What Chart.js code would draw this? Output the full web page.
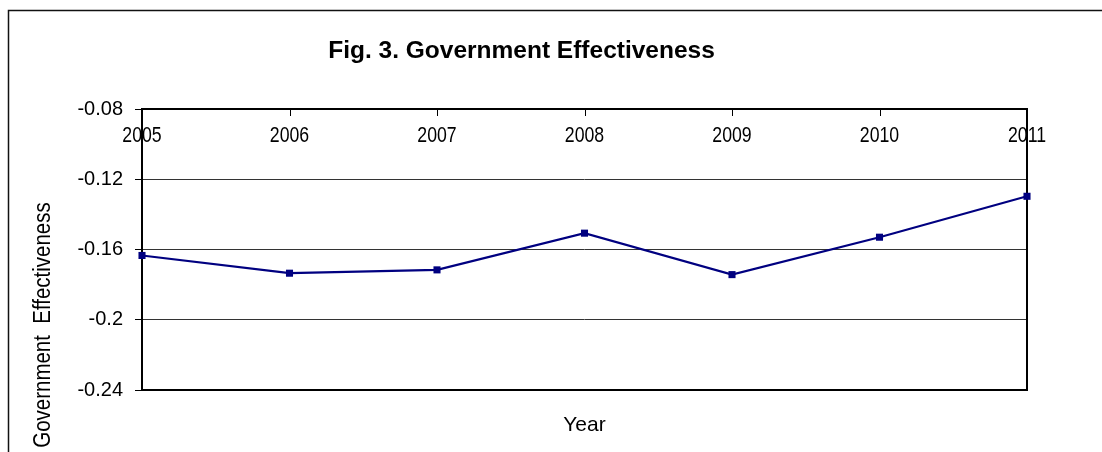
<!DOCTYPE html>
<html><head><meta charset="utf-8">
<script src="https://cdn.jsdelivr.net/npm/chart.js@4"></script>
<style>html,body{margin:0;padding:0;background:#fff;} canvas{display:block;}</style>
</head><body>
<canvas id="c" width="1102" height="452"></canvas>
<script>
const years = ['2005','2006','2007','2008','2009','2010','2011'];
const effectiveness = [-0.1634,-0.1735,-0.1716,-0.1507,-0.1743,-0.1530,-0.1297];
const yTicks = [-0.24,-0.20,-0.16,-0.12,-0.08];
const chartTitle = 'Fig. 3. Government Effectiveness';
const yTitle = 'Government  Effectiveness';
const xTitle = 'Year';

const FONT = "'Liberation Sans', Arial, Helvetica, sans-serif";
Chart.defaults.font.family = FONT;
Chart.defaults.color = '#000';

const customDraw = {
  id: 'customDraw',
  beforeDraw(chart) {
    const ctx = chart.ctx;
    ctx.save();
    ctx.fillStyle = '#fff';
    ctx.fillRect(0, 0, chart.width, chart.height);
    ctx.strokeStyle = '#111';
    ctx.lineWidth = 1.5;
    ctx.strokeRect(8.5, 10.5, chart.width + 40, chart.height + 40);
    // y axis title
    ctx.fillStyle = '#000';
    ctx.font = '23px ' + FONT;
    ctx.textAlign = 'center';
    ctx.textBaseline = 'alphabetic';
    ctx.translate(50, 325);
    ctx.rotate(-Math.PI / 2);
    ctx.scale(0.89, 1);
    ctx.fillText(yTitle, 0, 0);
    ctx.restore();
  },
  beforeDatasetsDraw(chart) {
    const ctx = chart.ctx, a = chart.chartArea, xs = chart.scales.x;
    ctx.save();
    // category labels inside the top of the plot
    ctx.fillStyle = '#000';
    ctx.font = '22px ' + FONT;
    ctx.textAlign = 'center';
    ctx.textBaseline = 'alphabetic';
    years.forEach((lab, i) => {
      const x = xs.getPixelForValue(i);
      ctx.save();
      ctx.translate(x, a.top + 33.4);
      ctx.scale(0.805, 1);
      ctx.fillText(lab, 0, 0);
      ctx.restore();
    });
    // inward tick marks on the top edge
    ctx.strokeStyle = '#000';
    ctx.lineWidth = 1;
    years.forEach((lab, i) => {
      const x = Math.round(xs.getPixelForValue(i)) + 0.5;
      ctx.beginPath();
      ctx.moveTo(x, a.top);
      ctx.lineTo(x, a.top + 7);
      ctx.stroke();
    });
    // plot frame
    ctx.lineWidth = 2;
    ctx.strokeRect(a.left, a.top, a.right - a.left, a.bottom - a.top);
    ctx.restore();
  }
};

new Chart(document.getElementById('c'), {
  type: 'line',
  data: {
    labels: years,
    datasets: [{
      data: effectiveness,
      borderColor: '#000080',
      backgroundColor: '#000080',
      borderWidth: 2.2,
      pointStyle: 'rect',
      pointRadius: 5,
      pointHoverRadius: 5,
      pointBorderWidth: 0,
      tension: 0,
      clip: false
    }]
  },
  options: {
    responsive: false,
    animation: false,
    devicePixelRatio: 1,
    layout: { padding: { left: 16, right: 75, top: 0, bottom: 0 } },
    plugins: {
      legend: { display: false },
      tooltip: { enabled: false },
      title: {
        display: true,
        text: chartTitle,
        color: '#000',
        font: { size: 24.5, weight: 'bold', family: FONT },
        padding: { top: 36.3, bottom: 43.3 }
      }
    },
    scales: {
      x: {
        type: 'category',
        position: 'bottom',
        offset: false,
        grid: { display: false },
        border: { display: false },
        ticks: { display: false },
        title: {
          display: true,
          text: xTitle,
          color: '#000',
          font: { size: 21, family: FONT },
          padding: { top: 0, bottom: 14.4 }
        },
        afterFit(s) { s.height = 62; }
      },
      y: {
        min: -0.24,
        max: -0.08,
        afterBuildTicks(s) { s.ticks = yTicks.map(v => ({ value: v })); },
        ticks: {
          color: '#000',
          font: { size: 20, family: FONT },
          padding: 12,
          callback: v => String(Number(Number(v).toFixed(2)))
        },
        grid: { color: '#333', lineWidth: 1, tickLength: 7, tickColor: '#000' },
        border: { display: false },
        afterFit(s) { s.width = 126; }
      }
    }
  },
  plugins: [customDraw]
});
</script>
</body></html>
